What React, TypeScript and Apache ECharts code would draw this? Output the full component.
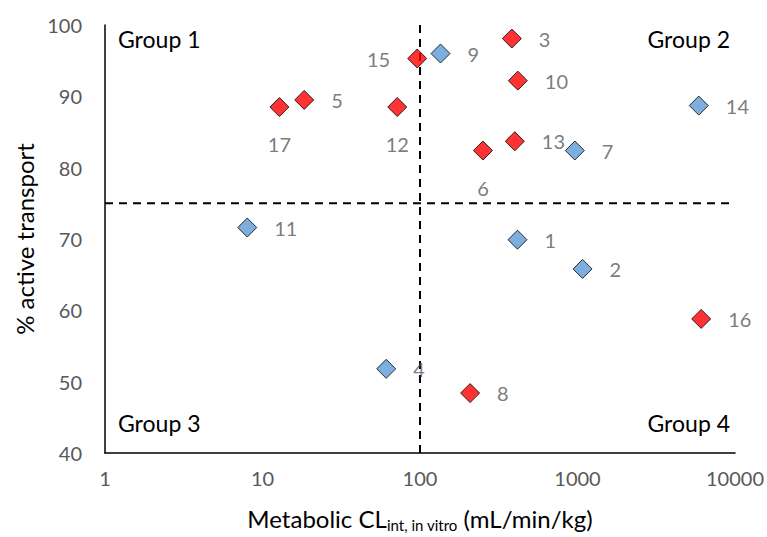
import React, { useEffect, useRef } from "react";
import * as echarts from "echarts";

// Compound numbers, metabolic CLint in vitro (mL/min/kg) and % active transport
const compoundIds = ["1", "2", "3", "4", "5", "6", "7", "8", "9", "10", "11", "12", "13", "14", "15", "16", "17"];
const clintValues = [416, 1077, 383, 61, 18.4, 251, 962, 208, 135, 418, 8.0, 71.7, 400, 5890, 96, 6100, 12.8];
const activeTransport = [69.9, 65.8, 98.1, 51.8, 89.5, 82.4, 82.4, 48.4, 96.0, 92.2, 71.6, 88.5, 83.7, 88.7, 95.3, 58.8, 88.5];
// Compounds drawn in red (others drawn in blue)
const redCompounds = ["3", "5", "6", "8", "10", "12", "13", "15", "16", "17"];
// Label placement per compound
const labelPositions: Record<string, string> = { "6": "bottom", "12": "bottom", "17": "bottom", "15": "left" };

// Threshold lines
const clintThreshold = 100;
const activeThreshold = 75;
const xRange = [1, 10000];
const yRange = [40, 100];
const xTickLabels = ["1", "10", "100", "1000", "10000"];
const groupLabels = ["Group 1", "Group 2", "Group 3", "Group 4"];

const FONT = "Lato";

function buildPoints(red: boolean) {
  const out: any[] = [];
  compoundIds.forEach((id, i) => {
    if (redCompounds.includes(id) === red) {
      out.push({
        name: id,
        value: [clintValues[i], activeTransport[i]],
        label: { position: labelPositions[id] || "right" },
      });
    }
  });
  return out;
}

export default function App() {
  const ref = useRef<HTMLDivElement>(null);
  useEffect(() => {
    if (!ref.current) return;
    const chart = echarts.init(ref.current, undefined, { renderer: "svg" });
    const pointLabel = {
      show: true,
      formatter: (p: any) => p.name,
      distance: 17,
      fontFamily: FONT,
      fontSize: 20,
      color: "#595959",
    };
    const groupStyle = { fontFamily: FONT, fontSize: 23, fill: "#000" };
    chart.setOption({
      animation: false,
      backgroundColor: "#fff",
      grid: { left: 105, right: 32, top: 25, bottom: 82 },
      xAxis: {
        type: "log",
        logBase: 10,
        min: xRange[0],
        max: xRange[1],
        axisLine: { show: true, lineStyle: { color: "#000", width: 1.5 } },
        axisTick: { show: false },
        splitLine: { show: false },
        axisLabel: {
          fontFamily: FONT,
          fontSize: 20,
          color: "#595959",
          margin: 15,
          formatter: (v: number) => {
            const idx = Math.round(Math.log10(v));
            return xTickLabels[idx] ?? String(Math.round(v));
          },
        },
        name: "{a|Metabolic CL}{sub|int, in vitro}{a| (mL/min/kg)}",
        nameLocation: "middle",
        nameGap: 51,
        nameTextStyle: {
          rich: {
            a: { fontFamily: FONT, fontSize: 24, color: "#000", lineHeight: 28 },
            sub: { fontFamily: FONT, fontSize: 15, color: "#000", lineHeight: 28, verticalAlign: "bottom", padding: [11, 0, 0, 0] },
          },
        },
      },
      yAxis: {
        type: "value",
        min: yRange[0],
        max: yRange[1],
        interval: 10,
        axisLine: { show: true, lineStyle: { color: "#000", width: 1.5 } },
        axisTick: { show: false },
        splitLine: { show: false },
        axisLabel: { fontFamily: FONT, fontSize: 20, color: "#595959", margin: 23 },
        name: "% active transport",
        nameLocation: "middle",
        nameRotate: 90,
        nameGap: 68,
        nameTextStyle: { fontFamily: FONT, fontSize: 24, color: "#000" },
      },
      graphic: [
        { type: "text", left: 118, top: 27, style: { ...groupStyle, text: groupLabels[0] } },
        { type: "text", right: 37, top: 27, style: { ...groupStyle, text: groupLabels[1] } },
        { type: "text", left: 118, top: 411, style: { ...groupStyle, text: groupLabels[2] } },
        { type: "text", right: 37, top: 411, style: { ...groupStyle, text: groupLabels[3] } },
      ],
      series: [
        {
          type: "line",
          data: [[xRange[0], activeThreshold], [xRange[1], activeThreshold]],
          symbol: "none",
          lineStyle: { color: "#000", width: 2, type: [8, 6] },
          z: 1,
          silent: true,
        },
        {
          type: "line",
          data: [[clintThreshold, yRange[0]], [clintThreshold, yRange[1]]],
          symbol: "none",
          lineStyle: { color: "#000", width: 2, type: [8, 6] },
          z: 1,
          silent: true,
        },
        {
          type: "scatter",
          symbol: "diamond",
          symbolSize: 19,
          itemStyle: { color: "#FF0000", borderColor: "#000", borderWidth: 1 },
          label: pointLabel,
          data: buildPoints(true),
          z: 3,
        },
        {
          type: "scatter",
          symbol: "diamond",
          symbolSize: 19,
          itemStyle: { color: "#5B9BD5", borderColor: "#000", borderWidth: 1 },
          label: pointLabel,
          data: buildPoints(false),
          z: 3,
        },
      ],
    });
    return () => chart.dispose();
  }, []);
  return <div ref={ref} style={{ position: "fixed", left: 0, top: 0, width: 767, height: 537 }} />;
}
